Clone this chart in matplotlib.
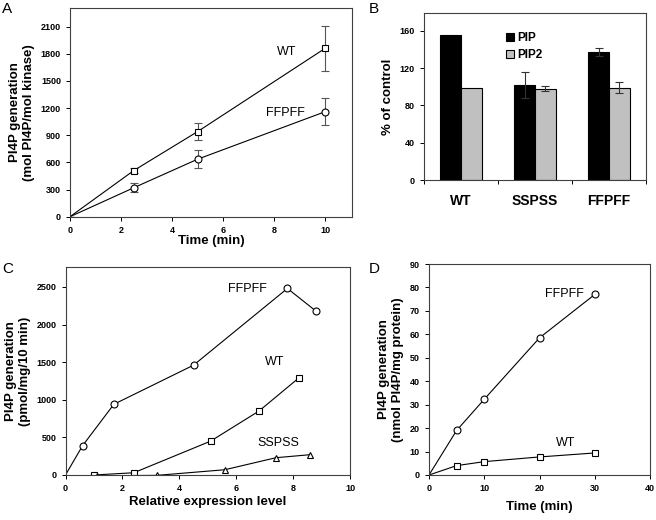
import numpy as np
import matplotlib
matplotlib.use('Agg')
import matplotlib.pyplot as plt

plt.rcParams['font.family'] = ['Liberation Sans', 'DejaVu Sans']

# Panel A: PI4P generation vs time
a_time = [0, 2.5, 5, 10]
a_wt = [0, 510, 940, 1860]
a_wt_err = [0, 25, 90, 250]
a_ff = [0, 320, 635, 1160]
a_ff_err = [0, 50, 100, 150]

# Panel B: % of control
b_groups = ['WT', 'SSPSS', 'FFPFF']
b_pip = [155, 102, 137]
b_pip_err = [0, 14, 4]
b_pip2 = [99, 98, 99]
b_pip2_err = [0, 3, 6]

# Panel C: PI4P generation vs relative expression
c_ff_x = [0, 0.6, 1.7, 4.5, 7.8, 8.8]
c_ff_y = [0, 390, 940, 1460, 2480, 2180]
c_wt_x = [1.0, 2.4, 5.1, 6.8, 8.2]
c_wt_y = [0, 30, 450, 850, 1290]
c_ss_x = [1.1, 3.2, 5.6, 7.4, 8.6]
c_ss_y = [-10, -5, 70, 230, 270]

# Panel D: PI4P generation vs time (cells)
d_time = [0, 5, 10, 20, 30]
d_ff = [0, 19, 32.3, 58.5, 77]
d_wt = [0, 4, 5.7, 7.7, 9.4]

fig = plt.figure(figsize=(6.56, 5.2), dpi=100)

spine_col = '#404040'
tick_kw = dict(labelsize=6.5, width=0.7, length=3, colors='black')
lab_kw = dict(fontsize=9.5, fontweight='bold')
mk = dict(mfc='white', mec='black', mew=0.8, ms=5, color='black', lw=0.8)
skip0 = lambda n: list(range(1, n))  # no marker on the origin point


def style(ax):
    for s in ax.spines.values():
        s.set_color(spine_col)
        s.set_linewidth(0.8)
    ax.tick_params(**tick_kw)
    for t in ax.get_xticklabels() + ax.get_yticklabels():
        t.set_fontweight('bold')


# ---- A
axA = fig.add_axes([70/656, 1 - 216.7/520, 282/656, 208.7/520])
axA.errorbar(a_time, a_wt, yerr=a_wt_err, marker='s', ecolor='#555555',
             elinewidth=0.8, capsize=3, capthick=0.8,
             markevery=skip0(len(a_time)), **mk)
axA.errorbar(a_time, a_ff, yerr=a_ff_err, marker='o', ecolor='#555555',
             elinewidth=0.8, capsize=3, capthick=0.8,
             markevery=skip0(len(a_time)), **mk)
axA.set_xlim(0, 11.05)
axA.set_ylim(0, 2305)
axA.set_xticks([0, 2, 4, 6, 8, 10])
axA.set_yticks(range(0, 2101, 300))
axA.set_xlabel('Time (min)', labelpad=0, **lab_kw)
axA.set_ylabel('PI4P generation\n(mol PI4P/mol kinase)', labelpad=4, **lab_kw)
axA.text(8.5, 1820, 'WT', fontsize=9, ha='center', va='center')
axA.text(8.43, 1146, 'FFPFF', fontsize=9, ha='center', va='center')
style(axA)

# ---- B
axB = fig.add_axes([424/656, 1 - 180/520, 222/656, 167/520])
x = np.arange(len(b_groups))
w = 0.28
axB.bar(x - w, b_pip, width=w, align='edge', color='black', edgecolor='black',
        linewidth=0.8, label='PIP')
axB.bar(x, b_pip2, width=w, align='edge', color='#c0c0c0', edgecolor='black',
        linewidth=0.8, label='PIP2')
for i in range(len(b_groups)):
    if b_pip_err[i]:
        axB.errorbar(x[i] - w / 2, b_pip[i], yerr=b_pip_err[i], fmt='none',
                     ecolor='#333333', elinewidth=0.8, capsize=3, capthick=0.8)
    if b_pip2_err[i]:
        axB.errorbar(x[i] + w / 2, b_pip2[i], yerr=b_pip2_err[i], fmt='none',
                     ecolor='#333333', elinewidth=0.8, capsize=3, capthick=0.8)
axB.set_xlim(-0.5, 2.5)
axB.set_ylim(0, 179)
axB.set_yticks(range(0, 161, 40))
axB.set_xticks([-0.5, 0.5, 1.5, 2.5])
axB.set_xticklabels([])
axB.set_xticks(x, minor=True)
axB.set_xticklabels(b_groups, minor=True, fontsize=10, fontweight='bold')
axB.tick_params(axis='x', which='minor', length=0, pad=10)
axB.set_ylabel('% of control', labelpad=4, **lab_kw)
axB.legend(loc='upper left', bbox_to_anchor=(0.32, 0.95), frameon=False,
           handlelength=0.7, handleheight=0.7, handletextpad=0.3,
           labelspacing=0.45, prop={'size': 8.5, 'weight': 'bold'})
style(axB)

# ---- C
axC = fig.add_axes([65.5/656, 1 - 475/520, 284.5/656, 208/520])
axC.plot(c_ff_x, c_ff_y, marker='o', markevery=skip0(len(c_ff_x)), **mk)
axC.plot(c_wt_x, c_wt_y, marker='s', **mk)
axC.plot(c_ss_x, c_ss_y, marker='^', **mk)
axC.set_xlim(0, 10)
axC.set_ylim(0, 2765)
axC.set_xticks(range(0, 11, 2))
axC.set_yticks(range(0, 2501, 500))
axC.set_xlabel('Relative expression level', labelpad=2, **lab_kw)
axC.set_ylabel('PI4P generation\n(pmol/mg/10 min)', labelpad=4, **lab_kw)
axC.text(6.4, 2473, 'FFPFF', fontsize=9, ha='center', va='center')
axC.text(7.34, 1503, 'WT', fontsize=9, ha='center', va='center')
axC.text(7.48, 425, 'SSPSS', fontsize=9, ha='center', va='center')
style(axC)

# ---- D
axD = fig.add_axes([429/656, 1 - 475/520, 221/656, 211/520])
axD.plot(d_time, d_ff, marker='o', markevery=skip0(len(d_time)), **mk)
axD.plot(d_time, d_wt, marker='s', markevery=skip0(len(d_time)), **mk)
axD.set_xlim(0, 40)
axD.set_ylim(0, 90)
axD.set_xticks(range(0, 41, 10))
axD.set_yticks(range(0, 91, 10))
axD.set_xlabel('Time (min)', labelpad=6, **lab_kw)
axD.set_ylabel('PI4P generation\n(nmol PI4P/mg protein)', labelpad=4, **lab_kw)
axD.text(24.6, 77.2, 'FFPFF', fontsize=9, ha='center', va='center')
axD.text(24.8, 13.6, 'WT', fontsize=9, ha='center', va='center')
style(axD)

# panel letters
for letter, px, py in [('A', 2, 2), ('B', 369, 2), ('C', 2, 262), ('D', 369, 262)]:
    fig.text(px / 656, 1 - py / 520, letter, fontsize=11, ha='left', va='top')

fig.savefig('out.png', dpi=100)
